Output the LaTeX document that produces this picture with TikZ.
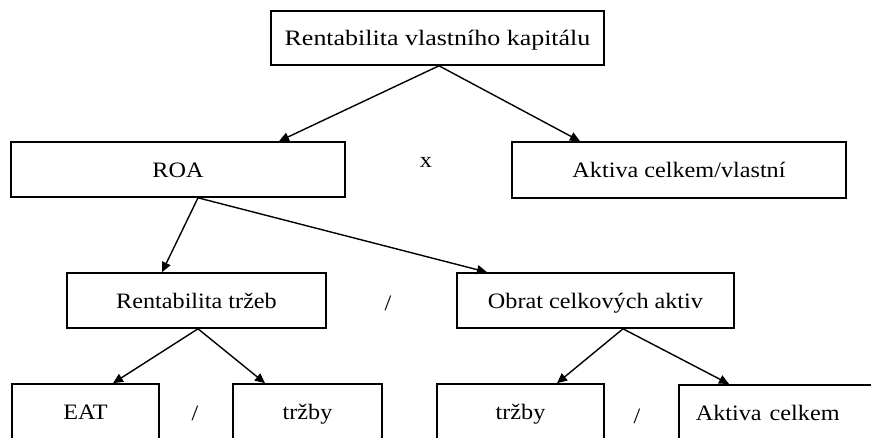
\documentclass[tikz,border=0pt]{standalone}
\usepackage{fontspec}
\usepackage{graphicx}
\setmainfont{Liberation Serif}
\usetikzlibrary{arrows.meta}
\newcommand{\wtx}[2][1.1]{\scalebox{#1}[1]{#2}}
\tikzset{
  box/.style={draw, line width=1.6pt, inner sep=0pt, text height=17pt, text depth=1pt},
  conn/.style={line width=1.4pt, -{Triangle[length=10pt,width=9pt]}},
  op/.style={inner sep=0pt},
  every node/.style={font=\fontsize{22}{26}\selectfont}
}
\begin{document}
\begin{tikzpicture}[x=1pt,y=-1pt]
\clip (0,0) rectangle (871,438);
\fill[white] (0,0) rectangle (871,438);
% nodes
\node[box, minimum width=333pt, minimum height=54pt] (top) at (437.5,38) {\wtx[1.18]{Rentabilita vlastního kapitálu}};
\node[box, minimum width=334pt, minimum height=55pt] (roa) at (178,169.5) {\wtx{ROA}};
\node[box, minimum width=334pt, minimum height=56pt] (akt) at (679,170) {\wtx{Aktiva celkem/vlastní}};
\node[op] (times) at (426,162) {\wtx{x}};
\node[box, minimum width=259pt, minimum height=55pt] (rt) at (196.5,300.5) {\wtx{Rentabilita tržeb}};
\node[box, minimum width=277pt, minimum height=55pt] (obr) at (595.5,300.5) {\wtx{Obrat celkových aktiv}};
\node[op] (div1) at (388,303) {\wtx{/}};
\node[box, minimum width=147pt, minimum height=56pt] (eat) at (85.5,412) {\wtx{EAT}};
\node[box, minimum width=149pt, minimum height=56pt] (trz1) at (307.5,412) {\wtx{tržby}};
\node[op] (div2) at (195,413) {\wtx{/}};
\node[box, minimum width=167pt, minimum height=56pt] (trz2) at (520.5,412) {\wtx{tržby}};
\node[op] (div3) at (637,416) {\wtx{/}};
\node[box, minimum height=56pt, text width=180pt, align=left, inner xsep=17pt, anchor=north west] (akc) at (678,384) {\wtx{Aktiva celkem}};
% connectors
\draw[conn] ([xshift=1.5pt]top.south) -- ([xshift=101pt]roa.north);
\draw[conn] ([xshift=1.5pt]top.south) -- ([xshift=-99pt]akt.north);
\draw[conn] ([xshift=20pt]roa.south) -- ([xshift=-34.5pt]rt.north);
\draw[conn] ([xshift=20pt]roa.south) -- ([xshift=-108.5pt]obr.north);
\draw[conn] ([xshift=1.5pt]rt.south) -- ([xshift=27.5pt]eat.north);
\draw[conn] ([xshift=1.5pt]rt.south) -- ([xshift=-42.5pt]trz1.north);
\draw[conn] ([xshift=27.5pt]obr.south) -- ([xshift=36.5pt]trz2.north);
\draw[conn] ([xshift=27.5pt]obr.south) -- ([xshift=51pt]akc.north west);
\end{tikzpicture}
\end{document}
